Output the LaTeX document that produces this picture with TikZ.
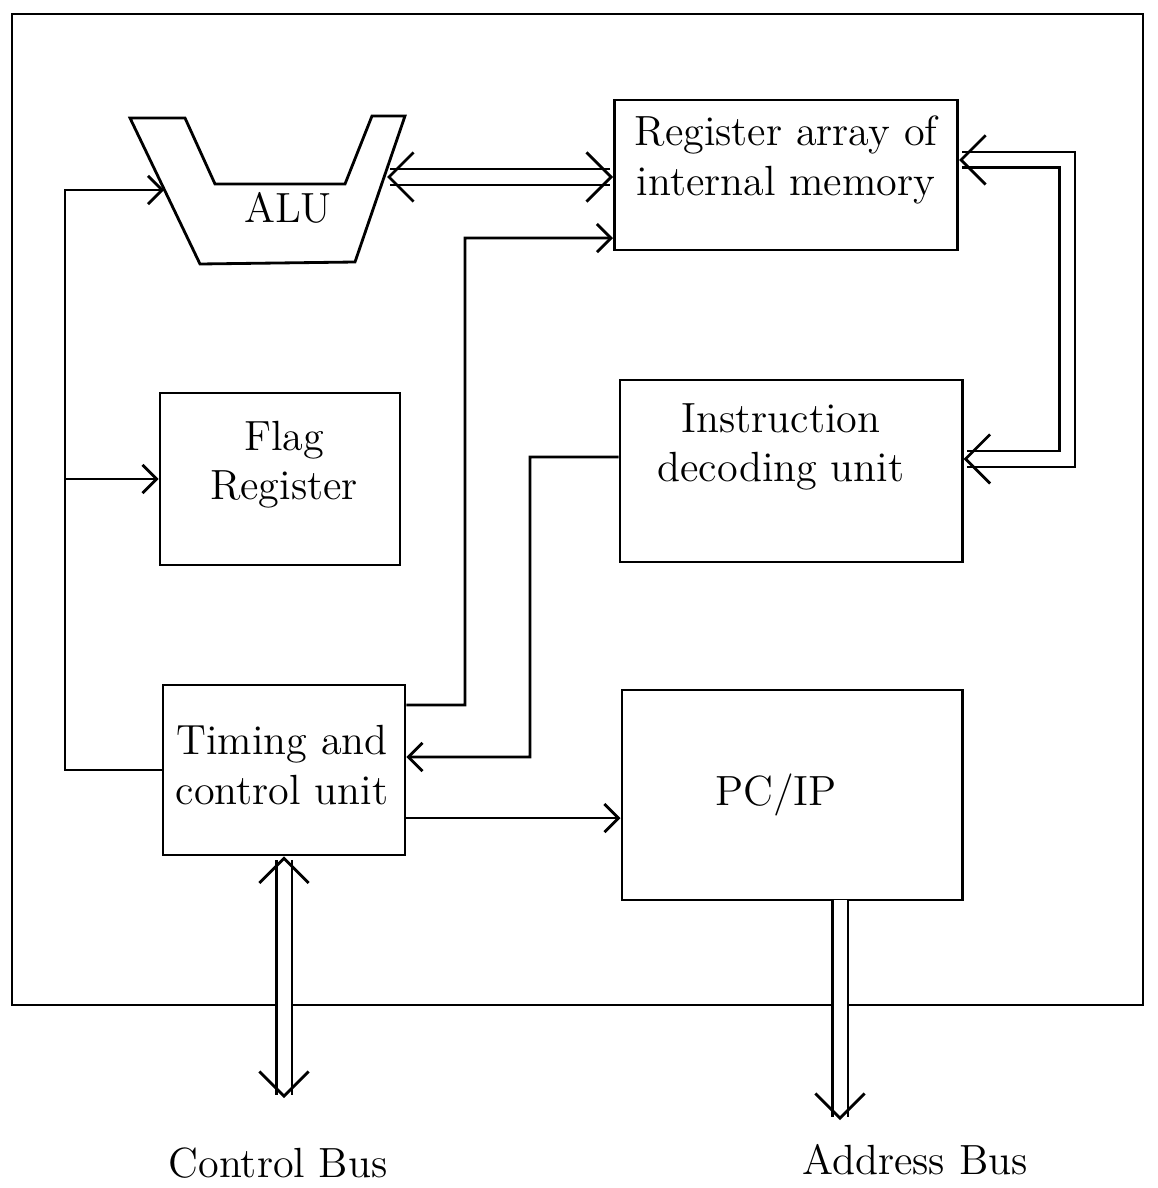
\documentclass[tikz,border=0pt]{standalone}
\usepackage{tikz}
\usetikzlibrary{arrows.meta}

\begin{document}
\begin{tikzpicture}[x=0.01cm, y=-0.01cm, font=\large, thick,
		blk/.style={draw, thick, inner sep=0pt},
		txt/.style={align=center, inner sep=1pt},
		sig/.style={-{Straight Barb[length=4pt, width=8pt]}},
		bus/.style={double, double distance=0.13cm},
		bustip/.tip={Straight Barb[length=7pt, width=14pt, line width=0.8pt]}]
		\useasboundingbox (0, 0) rectangle (1157, 1188);
		\draw (12, 14) rectangle (1143, 1005);
		\foreach \n/\x/\y/\w/\h in {reg/786/175/3.43/1.50, idu/791/471/3.42/1.82, flag/280/479/2.40/1.72, tcu/284/770/2.42/1.70, pc/792/795/3.40/2.10}
			\node[blk, minimum width=\w cm, minimum height=\h cm] (\n) at (\x, \y) {};
		\draw (130, 118) -- (185, 118) -- (215, 184) -- (345, 184) -- (372, 116) -- (405, 116) -- (355, 262) -- (200, 264) -- cycle;
		\coordinate (alul) at (164, 190);
		\coordinate (alur) at (387, 177);
		\node[txt] (alut) at (288, 208) {ALU};
		\node[txt] (regt) at (786, 160) {Register array of\\internal memory};
		\node[txt] (idut) at (781, 447) {Instruction\\decoding unit};
		\node[txt] (flagt) at (284, 465) {Flag\\Register};
		\node[txt] (tcut) at (282, 765) {Timing and\\control unit};
		\node[txt] (pct) at (776, 795) {PC/IP};
		\node[txt] (cbus) at (278, 1163) {Control Bus};
		\node[txt] (abus) at (915, 1160) {Address Bus};
		\draw[sig] (tcu.west) -- (65, 770) coordinate (lc) |- (alul);
		\draw[sig] (lc |- flag.west) -- (flag.west);
		\coordinate (t1) at ([yshift=0.65cm]tcu.east);
		\coordinate (r1) at ([yshift=-0.63cm]reg.west);
		\draw[sig] (t1) -- (465, 705) |- (r1);
		\coordinate (i1) at ([yshift=0.14cm]idu.west);
		\coordinate (t2) at ([yshift=0.13cm]tcu.east);
		\draw[sig] (i1) -- (530, 457) |- (t2);
		\coordinate (t3) at ([yshift=-0.48cm]tcu.east);
		\draw[sig] (t3) -- (t3 -| pc.west);
		\draw[bus, bustip-bustip] (alur) -- (alur -| reg.west);
		\coordinate (r2) at ([yshift=0.15cm]reg.east);
		\coordinate (i2) at ([yshift=0.12cm]idu.east);
		\draw[bus, bustip-bustip] (r2) -- ++(108, 0) |- (i2);
		\coordinate (cb) at (284, 1098);
		\draw[bus, bustip-bustip] (tcu.south) -- (cb);
		\coordinate (p1) at (840, 900);
		\coordinate (ab) at (840, 1120);
		\draw[bus, -bustip] (p1) -- (ab);
	\end{tikzpicture}
\end{document}
